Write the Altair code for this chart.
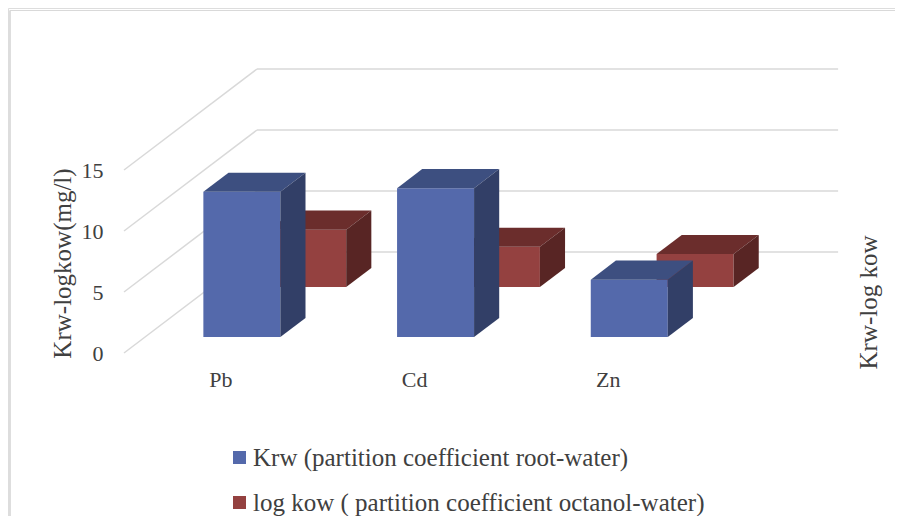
import altair as alt
import pandas as pd

# ---------------- data ----------------
categories = ["Pb", "Cd", "Zn"]
krw = [11.9, 12.2, 4.7]
log_kow = [4.7, 3.3, 2.7]
series_names = ["Krw (partition coefficient root-water)",
                "log kow ( partition coefficient octanol-water)"]
y_ticks = [0, 5, 10, 15]

# ---------------- styles ----------------
FRONT = ["#5469AB", "#944140"]
TOP = ["#3D4F80", "#6B2D2C"]
SIDE = ["#323F67", "#582524"]
GRID = "#D9D9D9"
TEXT = "#404040"
FONT = "Liberation Serif"

W, H = 887, 508          # svg size (plot area == whole svg)
PX_X = 193.7             # pixels per category slot
PX_Y = 12.2              # pixels per value unit
X0 = 116                 # svg x of floor front-left corner
Y0 = 345                 # svg y of value 0 on the front plane
KX = 133 / PX_X          # depth shift (x, in category units)
KY = 101 / PX_Y          # depth shift (y, in value units)
HW = 77 / 2 / PX_X       # half bar width
ROWS = [(0.158, 0.347), (0.653, 0.842)]  # depth of each series row

xs = alt.Scale(domain=[-X0 / PX_X, (W - X0) / PX_X], nice=False, zero=False)
ys = alt.Scale(domain=[-(H - Y0) / PX_Y, Y0 / PX_Y], nice=False, zero=False)

# ---------------- geometry tables ----------------
grid_rows = []
for v in y_ticks:
    grid_rows.append(dict(x=0.0, x2=KX, y=v, y2=v + KY))
    grid_rows.append(dict(x=KX, x2=len(categories) + KX, y=v + KY, y2=v + KY))
grid_df = pd.DataFrame(grid_rows)

values = [krw, log_kow]
front, top, side = [], [], []
for s, (name, vals) in enumerate(zip(series_names, values)):
    d0, d1 = ROWS[s]
    for i, v in enumerate(vals):
        cx = i + 0.5
        front.append(dict(s=s, series=name, x=cx - HW + d0 * KX, x2=cx + HW + d0 * KX,
                          y=d0 * KY, y2=v + d0 * KY))
        for d in (d0, d1):
            top.append(dict(s=s, id=f"{s}-{i}", shade=TOP[s], y=v + d * KY,
                            x=cx - HW + d * KX, x2=cx + HW + d * KX))
            side.append(dict(s=s, id=f"{s}-{i}", shade=SIDE[s], x=cx + HW + d * KX,
                             y=d * KY, y2=v + d * KY))
front_df = pd.DataFrame(front)
top_df = pd.DataFrame(top)
side_df = pd.DataFrame(side)
cat_df = pd.DataFrame(dict(cat=categories, x=[i + 0.5 for i in range(len(categories))],
                           y=[0.0] * len(categories)))

color_enc = alt.Color(
    "series:N",
    scale=alt.Scale(domain=series_names, range=FRONT),
    legend=alt.Legend(
        title=None, orient="none", legendX=219, legendY=437, padding=0,
        symbolType="square", symbolSize=169, symbolStrokeWidth=0,
        labelFont=FONT, labelFontSize=25, labelColor=TEXT, labelOffset=1,
        rowPadding=19, labelLimit=700,
    ),
)

# ---------------- layers ----------------
grid = alt.Chart(grid_df).mark_rule(color=GRID, strokeWidth=1.5).encode(
    x=alt.X("x:Q", scale=xs, axis=None),
    x2="x2:Q",
    y=alt.Y("y:Q", scale=ys, axis=alt.Axis(
        values=y_ticks, offset=-X0, domain=False, ticks=False, tickSize=0, grid=False,
        labelPadding=21, labelFont=FONT, labelFontSize=22, labelColor=TEXT,
        title="Krw-logkow(mg/l)", titleFont=FONT, titleFontSize=25, titleFontWeight="normal",
        titleColor=TEXT, titleAngle=270, titleX=54 - X0, titleY=255,
        titleAlign="center", titleBaseline="middle")),
    y2="y2:Q",
)

layers = [grid]
for s in (1, 0):
    f = alt.Chart(front_df[front_df.s == s]).mark_rect().encode(
        x=alt.X("x:Q", scale=xs, axis=None), x2="x2:Q",
        y=alt.Y("y:Q", scale=ys, axis=None), y2="y2:Q",
        color=color_enc,
    )
    t = alt.Chart(top_df[top_df.s == s]).mark_area(orient="horizontal").encode(
        y=alt.Y("y:Q", scale=ys, axis=None),
        x=alt.X("x:Q", scale=xs, axis=None), x2="x2:Q",
        detail="id:N",
        color=alt.Color("shade:N", scale=None),
    )
    sd = alt.Chart(side_df[side_df.s == s]).mark_area(orient="vertical").encode(
        x=alt.X("x:Q", scale=xs, axis=None),
        y=alt.Y("y:Q", scale=ys, axis=None), y2="y2:Q",
        detail="id:N",
        color=alt.Color("shade:N", scale=None),
    )
    layers += [f, t, sd]

cats = alt.Chart(cat_df).mark_text(
    dy=34, baseline="alphabetic", align="center", font=FONT, fontSize=22, color=TEXT
).encode(
    x=alt.X("x:Q", scale=xs, axis=None),
    y=alt.Y("y:Q", scale=ys, axis=alt.Axis(
        orient="right", labels=False, domain=False, ticks=False, tickSize=0, grid=False,
        title="Krw-log kow", titleFont=FONT, titleFontSize=25, titleFontWeight="normal",
        titleColor=TEXT, titleAngle=270, titleX=-27, titleY=294,
        titleAlign="center", titleBaseline="middle")),
    text="cat:N",
)
layers.append(cats)

border_top = alt.Chart(cat_df).mark_rule(color=GRID, strokeWidth=1).encode(
    x=alt.value(2), x2=alt.value(W), y=alt.value(2.5))
border_left = alt.Chart(cat_df).mark_rule(color=GRID, strokeWidth=1).encode(
    x=alt.value(2), y=alt.value(2.5), y2=alt.value(H))
layers += [border_top, border_left]

chart = alt.layer(*layers).resolve_axis(y="independent").properties(
    width=W, height=H, padding=0,
    autosize=alt.AutoSizeParams(type="none"),
).configure_view(stroke=None).configure(background="white")

chart.save("out.html", embed_options={"renderer": "svg", "actions": False})
